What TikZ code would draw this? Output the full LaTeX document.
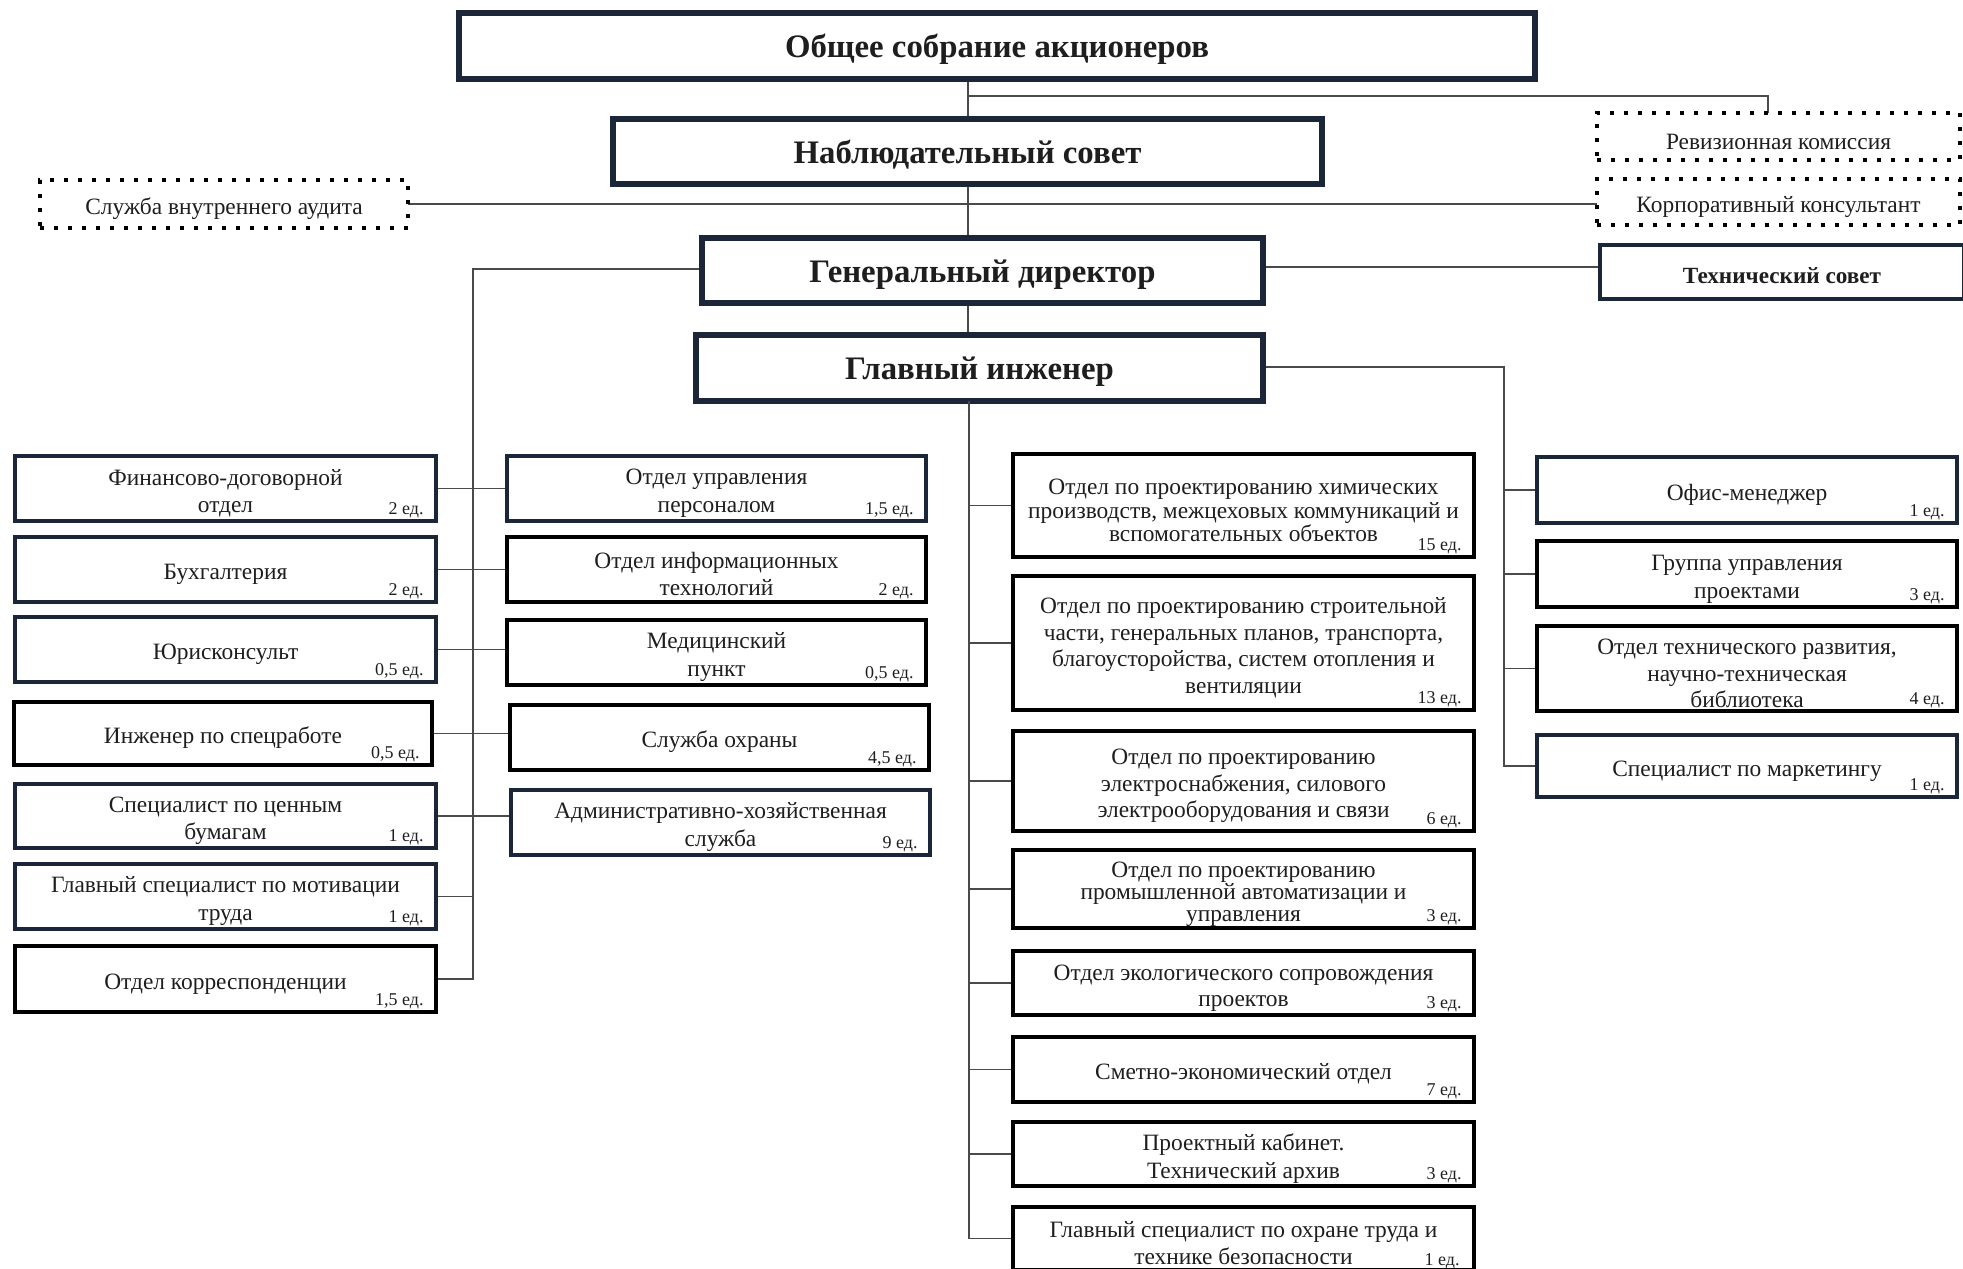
\documentclass[tikz,border=0pt]{standalone}
\usepackage{fontspec}
\setmainfont{Liberation Serif}
\definecolor{navy}{HTML}{1B2738}
\definecolor{ink}{HTML}{1E1E1E}
\definecolor{wire}{HTML}{4A4A4A}
\newcommand\mkbox[7]{\node[#1, minimum width={(#5-#3)*0.5pt}, minimum height={(#6-#4)*0.5pt}] (#2) at ({(#3+#5)/2},{(#4+#6)/2}) {\tpad#7};}
\newcommand\cntl[2]{\node[cntlbl, anchor=base east] (#1c) at ([xshift=-7pt,yshift=4.5pt]#1.south east) {#2};}
\newcommand\tpad{}
\tikzset{
  topbox/.style={draw=navy, line width=2.6pt, fill=white, inner sep=0pt, text=ink,
    font=\fontsize{16.4}{19}\selectfont\bfseries},
  tsbox/.style={draw=navy, line width=2.2pt, fill=white, inner sep=0pt, text=ink,
    font=\fontsize{11.6}{13.8}\selectfont\bfseries},
  dept/.style={draw=navy, line width=2pt, fill=white, inner sep=0pt, text=ink, align=center,
    font=\fontsize{11.7}{13.8}\selectfont},
  deptk/.style={dept, draw=black},
  dotbox/.style={draw=black, line width=2pt, dash pattern=on 2pt off 5pt, fill=white,
    inner sep=0pt, text=ink, font=\fontsize{11.7}{13.8}\selectfont},
  cntlbl/.style={inner sep=0pt, text=ink, font=\fontsize{9}{10}\selectfont},
  wire/.style={draw=wire, line width=0.8pt},
}
\begin{document}
\begin{tikzpicture}[x=0.5pt, y=-0.5pt]
\fill[white] (0,0) rectangle (1963,1268);
\useasboundingbox (0,0) rectangle (1963,1268);

% junction coordinates
\coordinate (t1) at (968,79);
\coordinate (j1) at (968,96);
\coordinate (lb) at (473,979);
\coordinate (ct) at (969,401);
\coordinate (rb) at (1504,367);

% ---- connectors of the upper trunk ----
\draw[wire] (t1) -- (968,335);
\draw[wire] (j1) -| (1768,113);
\draw[wire] (408,204) -- (1597,204);

% ---- top level boxes ----
\renewcommand\tpad{\rule{0pt}{15.1pt}}
\mkbox{topbox}{top}{459}{13}{1535}{79}{Общее собрание акционеров}
\mkbox{topbox}{nab}{613}{119}{1322}{184}{Наблюдательный совет}
\mkbox{topbox}{gd}{702}{238}{1263}{303}{Генеральный директор}
\mkbox{topbox}{gi}{696}{335}{1263}{401}{Главный инженер}
\renewcommand\tpad{\rule{0pt}{11.8pt}}
\mkbox{tsbox}{tech}{1600}{245}{1964}{299}{Технический совет}
\renewcommand\tpad{\rule{0pt}{12.7pt}}
\mkbox{dotbox}{aud}{40}{180}{408}{228}{Служба внутреннего аудита}
\mkbox{dotbox}{rev}{1597}{113}{1960}{160}{Ревизионная комиссия}
\mkbox{dotbox}{korp}{1597}{179}{1960}{225}{Корпоративный консультант}

% ---- left columns ----
\mkbox{dept}{L1}{15}{456}{436}{521}{Финансово-договорной\\отдел}
\mkbox{dept}{L2}{15}{537}{436}{602}{Бухгалтерия}
\mkbox{dept}{L3}{15}{617}{436}{682}{Юрисконсульт}
\mkbox{deptk}{L4}{14}{702}{432}{765}{Инженер по спецработе}
\mkbox{dept}{L5}{15}{784}{436}{848}{Специалист по ценным\\бумагам}
\mkbox{dept}{L6}{15}{864}{436}{929}{Главный специалист по мотивации\\труда}
\mkbox{deptk}{L7}{15}{946}{436}{1012}{Отдел корреспонденции}
\cntl{L1}{2 ед.}
\cntl{L2}{2 ед.}
\cntl{L3}{0,5 ед.}
\cntl{L4}{0,5 ед.}
\cntl{L5}{1 ед.}
\cntl{L6}{1 ед.}
\cntl{L7}{1,5 ед.}

\mkbox{dept}{M1}{507}{456}{926}{521}{Отдел управления\\персоналом}
\mkbox{deptk}{M2}{507}{537}{926}{602}{Отдел информационных\\технологий}
\mkbox{deptk}{M3}{507}{620}{926}{685}{Медицинский\\пункт}
\mkbox{deptk}{M4}{510}{705}{929}{770}{Служба охраны}
\mkbox{dept}{M5}{511}{790}{930}{855}{Административно-хозяйственная\\служба}
\cntl{M1}{1,5 ед.}
\cntl{M2}{2 ед.}
\cntl{M3}{0,5 ед.}
\cntl{M4}{4,5 ед.}
\cntl{M5}{9 ед.}

% ---- centre column ----
\mkbox{deptk, font=\fontsize{11.7}{11.6}\selectfont}{C1}{1013}{454}{1474}{557}{Отдел по проектированию химических\\производств, межцеховых коммуникаций и\\вспомогательных объектов}
\mkbox{deptk, font=\fontsize{11.7}{13.3}\selectfont}{C2}{1013}{576}{1474}{710}{Отдел по проектированию строительной\\части, генеральных планов, транспорта,\\благоусторойства, систем отопления и\\вентиляции}
\mkbox{deptk, font=\fontsize{11.7}{13.4}\selectfont}{C3}{1013}{731}{1474}{831}{Отдел по проектированию\\электроснабжения, силового\\электрооборудования и связи}
\mkbox{deptk, font=\fontsize{11.7}{11}\selectfont}{C4}{1013}{850}{1474}{928}{Отдел по проектированию\\промышленной автоматизации и\\управления}
\mkbox{deptk, font=\fontsize{11.7}{13.2}\selectfont}{C5}{1013}{951}{1474}{1015}{Отдел экологического сопровождения\\проектов}
\mkbox{deptk}{C6}{1013}{1037}{1474}{1102}{Сметно-экономический отдел}
\mkbox{deptk}{C7}{1013}{1122}{1474}{1186}{Проектный кабинет.\\Технический архив}
\mkbox{deptk}{C8}{1013}{1207}{1474}{1270}{Главный специалист по охране труда и\\технике безопасности}
\cntl{C1}{15 ед.}
\cntl{C2}{13 ед.}
\cntl{C3}{6 ед.}
\cntl{C4}{3 ед.}
\cntl{C5}{3 ед.}
\cntl{C6}{7 ед.}
\cntl{C7}{3 ед.}
\node[cntlbl, anchor=base east] (C8c) at (1460,1265) {1 ед.};

% ---- right column ----
\mkbox{dept}{R1}{1537}{457}{1957}{523}{Офис-менеджер}
\mkbox{deptk}{R2}{1537}{541}{1957}{607}{Группа управления\\проектами}
\mkbox{deptk, font=\fontsize{11.7}{13.1}\selectfont}{R3}{1537}{626}{1957}{711}{Отдел технического развития,\\научно-техническая\\библиотека}
\mkbox{dept}{R4}{1537}{735}{1957}{797}{Специалист по маркетингу}
\cntl{R1}{1 ед.}
\cntl{R2}{3 ед.}
\cntl{R3}{4 ед.}
\cntl{R4}{1 ед.}

% ---- connectors between boxes ----
\draw[wire] (gd.west |- 0,269) -| (lb) -- (L7.east);
\draw[wire] (gd.east |- 0,267) -- (tech.west |- 0,267);
\draw[wire] (L1.east) -- (L1.east -| M1.west);
\draw[wire] (L2.east) -- (L2.east -| M2.west);
\draw[wire] (L3.east) -- (L3.east -| M3.west);
\draw[wire] (L4.east) -- (L4.east -| M4.west);
\draw[wire] (L5.east) -- (L5.east -| M5.west);
\draw[wire] (L6.east) -- (L6.east -| lb);
\draw[wire] (ct) -- (ct |- C8.west) -- (C8.west);
\foreach \c in {C1,C2,C3,C4,C5,C6,C7} {\draw[wire] (\c.west -| ct) -- (\c.west);}
\draw[wire] (gi.east |- rb) -| (R4.west -| rb) -- (R4.west);
\foreach \r in {R1,R2,R3} {\draw[wire] (\r.west -| rb) -- (\r.west);}
\end{tikzpicture}
\end{document}
